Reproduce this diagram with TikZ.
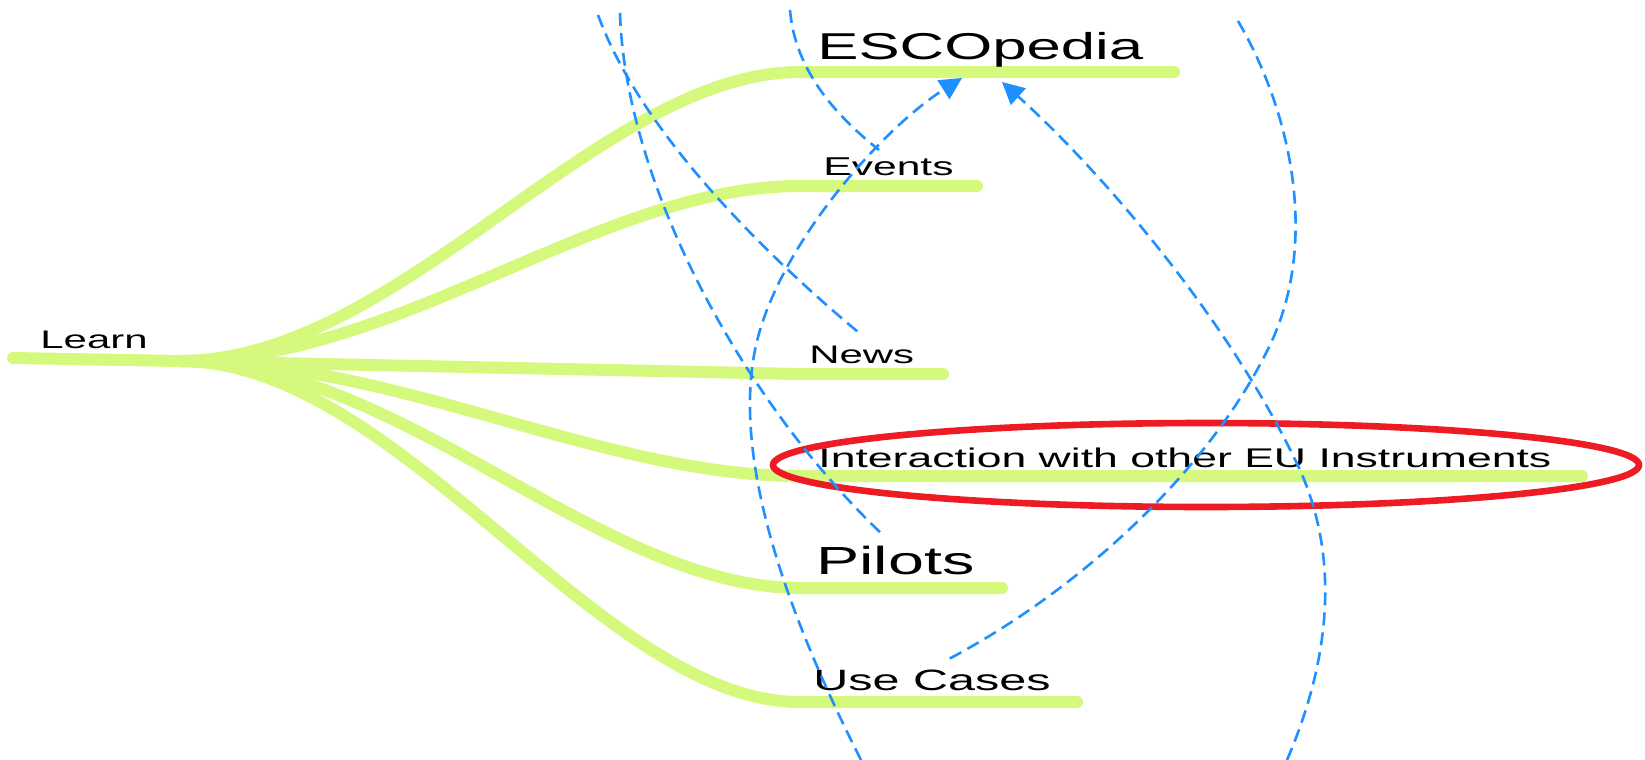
\documentclass[tikz,border=0pt]{standalone}
\usepackage{fontspec}
\setmainfont{Liberation Sans}[FakeStretch=1.65]
\usetikzlibrary{arrows.meta}
\definecolor{twig}{RGB}{213,249,124}
\definecolor{linkblue}{RGB}{30,144,255}
\definecolor{ringred}{RGB}{237,28,36}

\begin{document}
\begin{tikzpicture}[x=0.5pt, y=-0.5pt,
  branch/.style={twig, line width=6pt, line cap=round},
  rel/.style={linkblue, line width=1.3pt, dash pattern=on 6.5pt off 3.5pt},
  relto/.style={rel, -{Triangle[length=11pt,width=11pt]}},
  topic/.style={anchor=base west, inner sep=0pt, font=\fontsize{#1pt}{#1pt}\selectfont}]
\useasboundingbox (0,0) rectangle (1645,760);

% mind map branches
\coordinate (root) at (13,358);
\coordinate (J) at (180,361);
\draw[branch] (root) -- (J);
\foreach \y/\e in {72/1174, 186/977, 476/1582, 588/1002, 702/1077}
  \draw[branch] (J) .. controls (400,361) and (600,\y) .. (800,\y) -- (\e,\y);
\draw[branch] (J) -- (800,374) -- (943,374);

\node[topic=12.7] (learn) at (40,348) {Learn};
\node[topic=18.7] (esco) at (817,59) {ESCOpedia};
\node[topic=12.9] (events) at (823,175) {Events};
\node[topic=12.7] (news) at (809,363) {News};
\node[topic=13.5] (eu) at (818,467) {Interaction with other EU Instruments};
\node[topic=19.6] (pilots) at (816,574) {Pilots};
\node[topic=14.7] (cases) at (813,690) {Use Cases};

% highlight
\draw[ringred, line width=3.3pt] (1206,465) ellipse [x radius=433, y radius=42];

% link ends
\coordinate (top1) at (598,15);
\coordinate (top2) at (620,13);
\coordinate (top3) at (790,10);
\coordinate (top4) at (1238,21);
\coordinate (bot1) at (861,760);
\coordinate (bot2) at (1287,760);
\coordinate (newsin) at (858,332);
\coordinate (pilotsin) at (885,537);
\coordinate (eventsin) at (879,150);
\coordinate (casesin) at (947,660);
\coordinate (escoin1) at (962,78);
\coordinate (escoin2) at (1002,82);

% links
\draw[rel] (top1) .. controls (640,130) and (760,250) .. (newsin);
\draw[rel] (top2) .. controls (625,180) and (740,400) .. (pilotsin);
\draw[rel] (top3) .. controls (795,70) and (835,115) .. (eventsin);
\draw[rel] (top4) .. controls (1290,110) and (1320,240) .. (1270,345)
  .. controls (1210,470) and (1080,590) .. (casesin);
\draw[relto] (bot1) .. controls (775,590) and (735,450) .. (755,350)
  .. controls (775,250) and (880,130) .. (escoin1);
\draw[relto] (bot2) .. controls (1330,660) and (1340,560) .. (1300,470)
  .. controls (1230,320) and (1100,170) .. (escoin2);

\end{tikzpicture}
\end{document}
